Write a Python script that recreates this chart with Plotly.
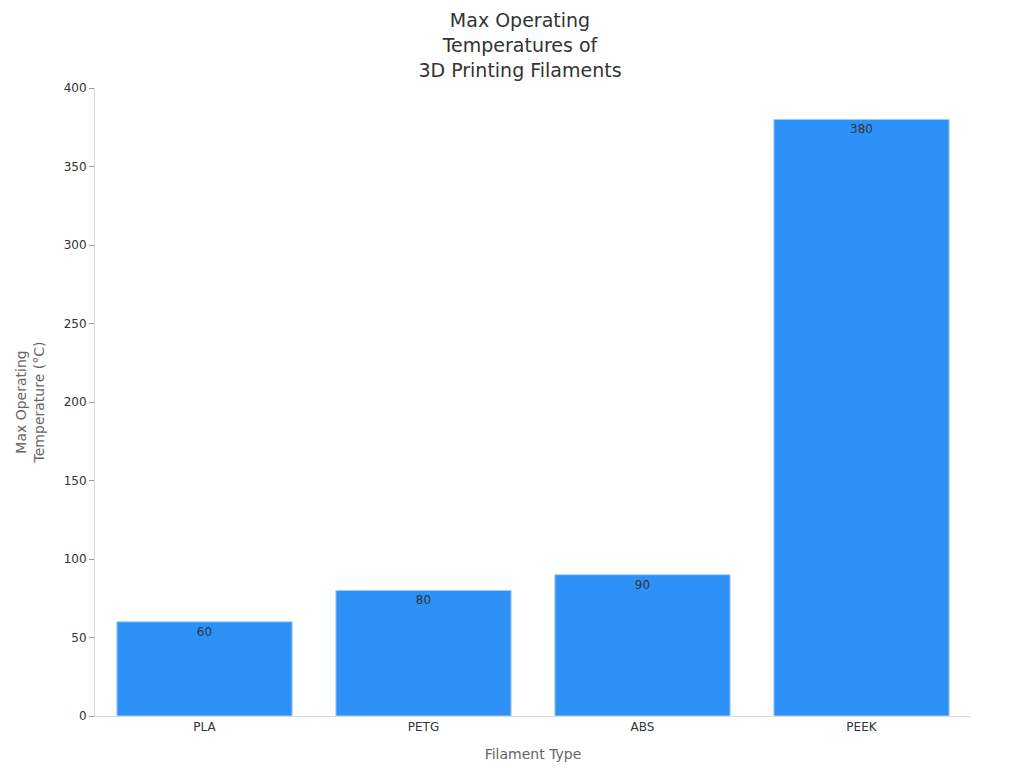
import plotly.graph_objects as go

filaments = ['PLA', 'PETG', 'ABS', 'PEEK']
max_temps = [60, 80, 90, 380]

fig = go.Figure(go.Bar(
    x=filaments,
    y=max_temps,
    text=max_temps,
    textposition='inside',
    insidetextanchor='end',
    textfont=dict(color='#333333', size=12),
    marker=dict(color='#2d91f7', line=dict(color='#a8cdf5', width=1)),
    width=0.8,
))

fig.update_layout(
    title=dict(text='Max Operating<br>Temperatures of<br>3D Printing Filaments',
               x=0.5, xanchor='center', y=0.975, yanchor='top',
               font=dict(size=19, color='#333333')),
    width=1024, height=768,
    margin=dict(l=87, r=61, t=80, b=60),
    plot_bgcolor='white', paper_bgcolor='white',
    font=dict(family='DejaVu Sans', color='#333333', size=12),
    showlegend=False,
)
fig.update_xaxes(title=dict(text='Filament Type', font=dict(size=14, color='#666666')),
                 showline=True, linecolor='#d9d9d9', showgrid=False, ticks='',
                 tickfont=dict(size=12))
fig.update_yaxes(title=dict(text='Max Operating<br>Temperature (°C)', font=dict(size=14, color='#666666')),
                 range=[0, 400], dtick=50, showline=True, linecolor='#d9d9d9',
                 showgrid=False, ticks='outside', tickcolor='#999999', ticklen=5,
                 zeroline=False, tickfont=dict(size=12))

fig.write_html('out.html')
